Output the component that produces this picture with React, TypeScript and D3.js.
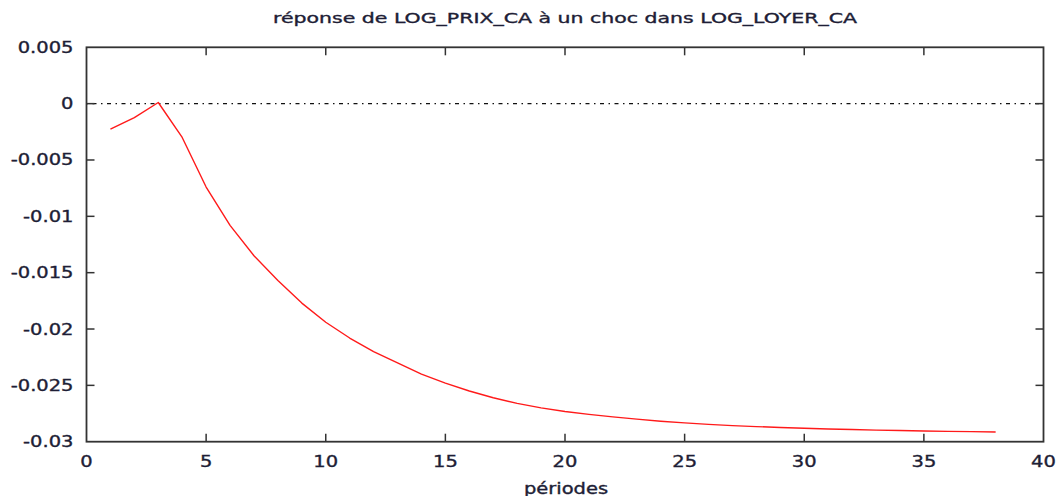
import React from "react";
import * as d3 from "d3";

const periods: number[] = [1,2,3,4,5,6,7,8,9,10,11,12,13,14,15,16,17,18,19,20,21,22,23,24,25,26,27,28,29,30,31,32,33,34,35,36,37,38];
const response: number[] = [
  -0.00227, -0.00124, 0.0001, -0.0030, -0.0074, -0.0108, -0.0135, -0.0157, -0.0177, -0.0194,
  -0.0208, -0.0220, -0.0230, -0.0240, -0.0248, -0.0255, -0.0261, -0.0266, -0.0270, -0.02732,
  -0.02758, -0.0278, -0.0280, -0.02818, -0.02833, -0.02846, -0.02857, -0.02866, -0.02874, -0.02881,
  -0.02887, -0.02892, -0.02897, -0.02901, -0.02905, -0.02908, -0.02911, -0.02914,
];
const xTicks: number[] = [0, 5, 10, 15, 20, 25, 30, 35, 40];
const yTicks: number[] = [0.005, 0, -0.005, -0.01, -0.015, -0.02, -0.025, -0.03];
const yTickLabels: string[] = ["0.005", "0", "-0.005", "-0.01", "-0.015", "-0.02", "-0.025", "-0.03"];
const title = "réponse de LOG_PRIX_CA à un choc dans LOG_LOYER_CA";
const xLabel = "périodes";

const W = 1060, H = 496;
const L = 86.5, R = 1043.5, T = 47.3, B = 441.7;
const FONT = "'DejaVu Sans', sans-serif";
const TXT = "#1e1e36";
const SX = 1.3;

export default function App() {
  const x = d3.scaleLinear().domain([0, 40]).range([L, R]);
  const y = d3.scaleLinear().domain([-0.03, 0.005]).range([B, T]);
  const pts = periods.map((p, i) => [p, response[i]] as [number, number]);
  const line = d3.line<[number, number]>().x(d => x(d[0])).y(d => y(d[1]));
  const tick = 8;
  const txtStroke = { stroke: TXT, strokeWidth: 0.35 };
  return (
    <svg width={W} height={H} style={{ position: "absolute", left: 0, top: 0, background: "#fff" }}>
      <rect x={0} y={0} width={W} height={H} fill="#fff" />
      <line x1={L} x2={R} y1={y(0)} y2={y(0)} stroke="#111" strokeWidth={1.2} strokeDasharray="1.5,4.5,4,4.5" />
      <path d={line(pts) || ""} fill="none" stroke="#ff1a1a" strokeWidth={1.4} strokeLinejoin="round" />
      {xTicks.map((t, i) => (
        <g key={"xt" + i}>
          {t > 0 && t < 40 && (
            <>
              <line x1={x(t)} x2={x(t)} y1={B} y2={B - tick} stroke="#333" strokeWidth={1.5} />
              <line x1={x(t)} x2={x(t)} y1={T} y2={T + tick} stroke="#333" strokeWidth={1.5} />
            </>
          )}
          <text transform={`translate(${x(t)},${466.5}) scale(${SX},1)`} textAnchor="middle" fontFamily={FONT} fontSize={15} fill={TXT} {...txtStroke}>{t}</text>
        </g>
      ))}
      {yTicks.map((t, i) => (
        <g key={"yt" + i}>
          {i > 0 && i < yTicks.length - 1 && (
            <>
              <line x1={L} x2={L + tick} y1={y(t)} y2={y(t)} stroke="#333" strokeWidth={1.5} />
              <line x1={R} x2={R - tick} y1={y(t)} y2={y(t)} stroke="#333" strokeWidth={1.5} />
            </>
          )}
          <text transform={`translate(${73.5},${y(t) + 5.5}) scale(${SX},1)`} textAnchor="end" fontFamily={FONT} fontSize={15} fill={TXT} {...txtStroke}>{yTickLabels[i]}</text>
        </g>
      ))}
      <rect x={L} y={T} width={R - L} height={B - T} fill="none" stroke="#333" strokeWidth={1.8} />
      <text x={273} y={23} textLength={584} lengthAdjust="spacingAndGlyphs" fontFamily={FONT} fontSize={14} fill={TXT} {...txtStroke}>{title}</text>
      <text transform={`translate(${566},${494}) scale(${SX},1)`} textAnchor="middle" fontFamily={FONT} fontSize={15} fill={TXT} {...txtStroke}>{xLabel}</text>
    </svg>
  );
}
